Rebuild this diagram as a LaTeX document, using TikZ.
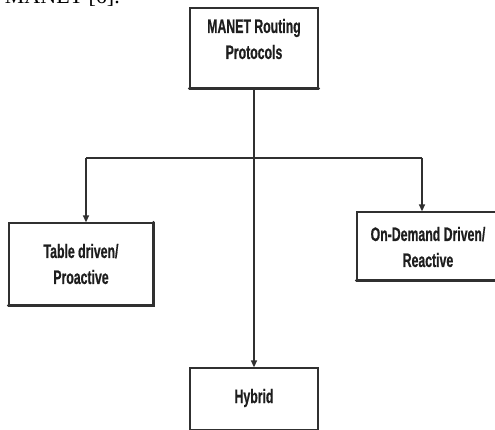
\documentclass[tikz,border=0pt]{standalone}
\usepackage{fontspec}
\setmainfont{Liberation Serif}
\newfontfamily\boxfont[FakeStretch=0.63,FakeBold=0.6]{Liberation Sans Bold}
\usetikzlibrary{arrows.meta}
\definecolor{linec}{HTML}{303030}
\definecolor{txtc}{HTML}{1E1E1E}
\begin{document}
\begin{tikzpicture}[x=1pt,y=-1pt,
  box/.style={draw=linec, line width=1.3pt, inner sep=0pt, fill=white},
  shade/.style={draw=linec, line width=2.8pt, line cap=round},
  txt/.style={font=\boxfont\fontsize{19.5pt}{26pt}\selectfont, align=center, text=txtc, inner sep=0pt},
  conn/.style={draw=linec, line width=1.4pt},
  arr/.style={conn, -{Triangle[length=7pt,width=6pt]}}]
\useasboundingbox (0,0) rectangle (495,430);
\clip (0,0) rectangle (495,430);
\fill[white] (0,0) rectangle (495,430);
% cut-off fragment of body text
\node[font=\fontsize{22pt}{26pt}\selectfont, anchor=base east, inner sep=0pt] (frag) at (120,3.5) {MANET [6].};
% boxes
\node[box, minimum width=128pt, minimum height=80pt] (top) at (254,48) {};
\node[box, minimum width=144pt, minimum height=82pt] (left) at (81,264) {};
\node[box, minimum width=142pt, minimum height=68pt] (right) at (428,246) {};
\node[box, minimum width=128pt, minimum height=62pt] (hyb) at (254,399) {};
\draw[shade] (top.south west) -- (top.south east);
\draw[shade] (left.north east) -- (left.south east) -- (left.south west);
\draw[shade] (right.south west) -- (right.south east);
% texts
\node[txt] (toptxt) at (254,39) {MANET Routing\\Protocols};
\node[txt] (lefttxt) at (81,264) {Table driven/\\Proactive};
\node[txt] (righttxt) at (428,247) {On-Demand Driven/\\Reactive};
\node[txt] (hybtxt) at (254,398) {Hybrid};
% connectors
\coordinate (jl) at (86,158);
\coordinate (jr) at (422,158);
\draw[conn] (jl) -- (jr);
\draw[arr] (top.south) -- (hyb.north);
\draw[arr] (jl) -- (jl |- left.north);
\draw[arr] (jr) -- (jr |- right.north);
\end{tikzpicture}
\end{document}
